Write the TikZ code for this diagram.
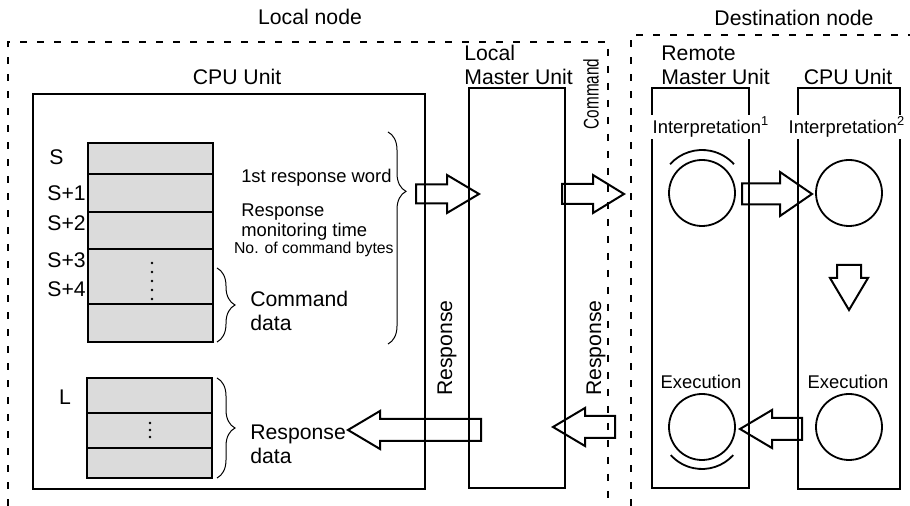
\documentclass[tikz,border=0pt]{standalone}
\usepackage{fontspec}
\setmainfont{Liberation Sans}
\usetikzlibrary{decorations.pathreplacing}

\tikzset{
  unitbox/.style={line width=1pt},
  zone/.style={line width=1pt, dash pattern=on 3.5pt off 5pt},
  cell/.style={line width=1pt, fill=black!14},
  proc/.style={circle, draw, line width=0.9pt, minimum size=33pt, inner sep=0pt},
  arcline/.style={line width=0.9pt},
  blockarrow/.style={line width=1pt, line join=miter},
  cbrace/.style={decorate, decoration={brace, amplitude=9pt}, line width=0.5pt},
  txtbig/.style={font=\fontsize{10.6}{12}\selectfont, inner sep=1pt},
  txtmid/.style={font=\fontsize{9.2}{10}\selectfont, inner sep=1pt},
  txtsmall/.style={font=\fontsize{7.9}{9}\selectfont, inner sep=1pt},
}

% horizontal block arrow: tail x, head start x, tip x, y, shaft half, head half
\newcommand{\harrow}[6]{%
  \draw[blockarrow] (#1,#4-#5) -- (#2,#4-#5) -- (#2,#4-#6) -- (#3,#4)
    -- (#2,#4+#6) -- (#2,#4+#5) -- (#1,#4+#5) -- cycle;}

\begin{document}
\begin{tikzpicture}[x=0.5pt,y=-0.5pt]
\useasboundingbox (0,0) rectangle (910,506);
% nodes
\draw[zone] (8,506) -- (8,42) -- (608,42) -- (608,506);
\draw[zone] (631,506) -- (631,35) -- (910,35);
\node[txtbig] (localnode) at (310,17) {Local node};
\node[txtbig] (destnode) at (794,18) {Destination node};
% units
\draw[unitbox] (33,94) rectangle (425,489);
\draw[unitbox] (469,88) rectangle (565,488);
\draw[unitbox] (652,88) rectangle (749,488);
\draw[unitbox] (798,88) rectangle (900,489);
\node[txtbig] (cpu) at (237,77) {CPU Unit};
\node[txtbig, align=left, anchor=west] (lmu) at (462,65) {Local\\Master Unit};
\node[txtbig, align=left, anchor=west] (rmu) at (659,65) {Remote\\Master Unit};
\node[txtbig] (cpu2) at (848,77) {CPU Unit};
% command area
\foreach \ya/\yb in {143/174,174/212,212/249,249/304,304/342}
  \draw[cell] (88,\ya) rectangle (213,\yb);
\foreach \yd in {263,272,281,290,299} \fill (152,\yd) circle (1.4);
\node[txtbig, anchor=west] (s0) at (47,157) {S};
\node[txtbig, anchor=west] (s1) at (45,193) {S+1};
\node[txtbig, anchor=west] (s2) at (45,223) {S+2};
\node[txtbig, anchor=west] (s3) at (45,260) {S+3};
\node[txtbig, anchor=west] (s4) at (45,289) {S+4};
\draw[cbrace] (217,268) -- (217,342);
\node[txtbig, align=left, anchor=west] (cmddata) at (248,311) {Command\\data};
\node[txtmid, anchor=east] (firstword) at (394,178) {1st response word};
\node[txtmid, align=left, anchor=west] (montime) at (239,222) {Response\\monitoring time};
\node[txtsmall, anchor=east] (nbytes) at (396,249) {No. of command bytes};
\draw[cbrace, decoration={aspect=0.28}] (388,132) -- (388,344);
% response area
\foreach \ya/\yb in {378/413,413/448,448/478}
  \draw[cell] (87,\ya) rectangle (212,\yb);
\foreach \yd in {423,430,437} \fill (150,\yd) circle (1.4);
\node[txtbig] (l0) at (65,397) {L};
\draw[cbrace] (217,378) -- (217,478);
\node[txtbig, align=left, anchor=west] (resdata) at (248,444) {Response\\data};
% flow labels
\node[txtbig, rotate=90] (cmdlbl) at (591,94) {\scalebox{0.72}[1]{Command}};
\node[txtbig, rotate=90] (reslbl1) at (447,348) {Response};
\node[txtbig, rotate=90] (reslbl2) at (596,348) {Response};
% processing
\node[txtmid, fill=white] (interp1) at (711,127) {Interpretation\textsuperscript{1}};
\node[txtmid, fill=white] (interp2) at (847,127) {Interpretation\textsuperscript{2}};
\node[txtmid] (exec1) at (701,382) {Execution};
\node[txtmid] (exec2) at (848,382) {Execution};
\node[proc] (int1) at (702,193) {};
\node[proc] (int2) at (849,193) {};
\node[proc] (exe1) at (702,427) {};
\node[proc] (exe2) at (849,427) {};
\draw[arcline] ([shift={(222:43)}]int1.center) arc[start angle=222, end angle=318, radius=43];
\draw[arcline] ([shift={(42:42)}]exe1.center) arc[start angle=42, end angle=138, radius=42];
% block arrows
\harrow{416}{447}{479}{194}{9.5}{19}
\harrow{562}{593}{624}{194}{10}{19}
\harrow{742}{780}{812}{194}{10.5}{22}
\harrow{802}{772}{740}{429}{11}{19}
\harrow{615}{585}{553}{427}{11}{19}
\harrow{481}{380}{348}{430}{11}{19}
\draw[blockarrow] (837,265) -- (861,265) -- (861,278) -- (868,278) -- (849,310)
  -- (830,278) -- (837,278) -- cycle;
\end{tikzpicture}
\end{document}
